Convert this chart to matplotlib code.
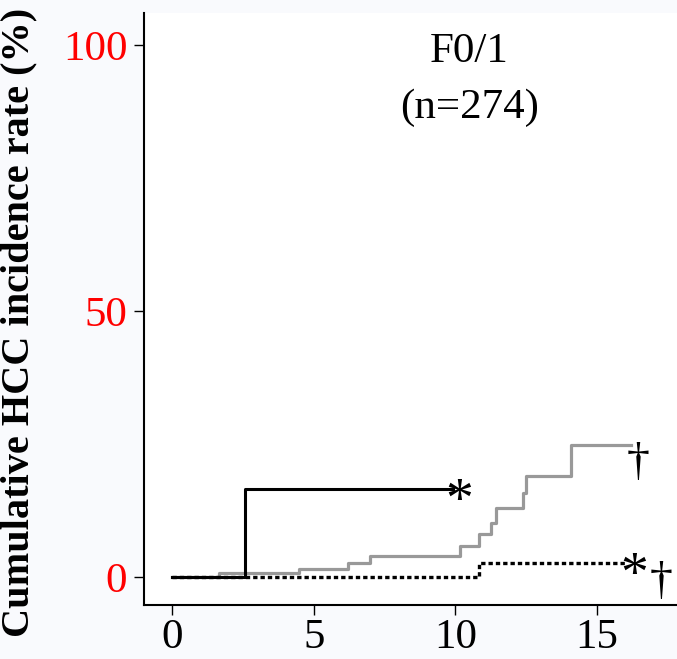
import numpy as np
import matplotlib
matplotlib.use("Agg")
import matplotlib.pyplot as plt

plt.rcParams['font.family'] = ['Liberation Serif', 'DejaVu Serif']

# step curves (years, cumulative %)
solid_x = [0, 2.58, 9.9]
solid_y = [0, 16.5, 16.5]

grey_x = [0, 1.66, 4.48, 6.19, 6.98, 10.15, 10.85, 11.27, 11.45, 12.4, 12.5, 14.1, 16.2]
grey_y = [0, 0.7, 1.5, 2.7, 3.9, 5.8, 8.0, 10.2, 12.9, 15.7, 18.9, 24.9, 24.9]

dash_x = [0, 10.85, 16.05]
dash_y = [0, 2.6, 2.6]

xticks = [0, 5, 10, 15]
yticks = [0, 50, 100]

fig = plt.figure(figsize=(6.77, 6.59), dpi=100, facecolor='#f9fafd')
ax = fig.add_axes([0.2127, 0.082, 0.7873, 0.898])
ax.set_facecolor('white')

ax.step(grey_x, grey_y, where='post', color='#999999', lw=2.3, zorder=2)
ax.step(dash_x, dash_y, where='post', color='black', lw=2.4,
        linestyle=(0, (1.3, 0.9)), zorder=3)
ax.step(solid_x, solid_y, where='post', color='black', lw=2.2, zorder=4)

# censor / significance marks
ax.text(10.15, solid_y[-1] - 2.6, '*', fontsize=40, ha='center', va='center')
ax.text(16.45, grey_y[-1] - 3.7, '\u2020', fontsize=33, ha='center', va='center')
ax.text(16.3, dash_y[-1] - 2.6, '*', fontsize=40, ha='center', va='center')
ax.text(17.25, dash_y[-1] - 3.7, '\u2020', fontsize=33, ha='center', va='center')

ax.text(10.5, 93.5, 'F0/1\n(n=274)', fontsize=31, ha='center', va='center',
        linespacing=1.6)

ax.set_xlim(-1, 17.83)
ax.set_ylim(-5.26, 106)
ax.set_xticks(xticks)
ax.set_yticks(yticks)
ax.tick_params(axis='both', length=7, width=1)
ax.tick_params(axis='x', labelsize=31, pad=3)
ax.tick_params(axis='y', labelsize=31, pad=5)
for lab in ax.get_yticklabels():
    lab.set_color('red')
ax.spines['top'].set_visible(False)
ax.spines['right'].set_visible(False)
ax.spines['left'].set_linewidth(1.5)
ax.spines['bottom'].set_linewidth(1.5)

ax.set_ylabel('Cumulative HCC incidence rate (%)', fontsize=29,
              fontweight='bold')
ax.yaxis.set_label_coords(-0.2, 0.478)

fig.savefig('out.png', dpi=100, facecolor=fig.get_facecolor())
